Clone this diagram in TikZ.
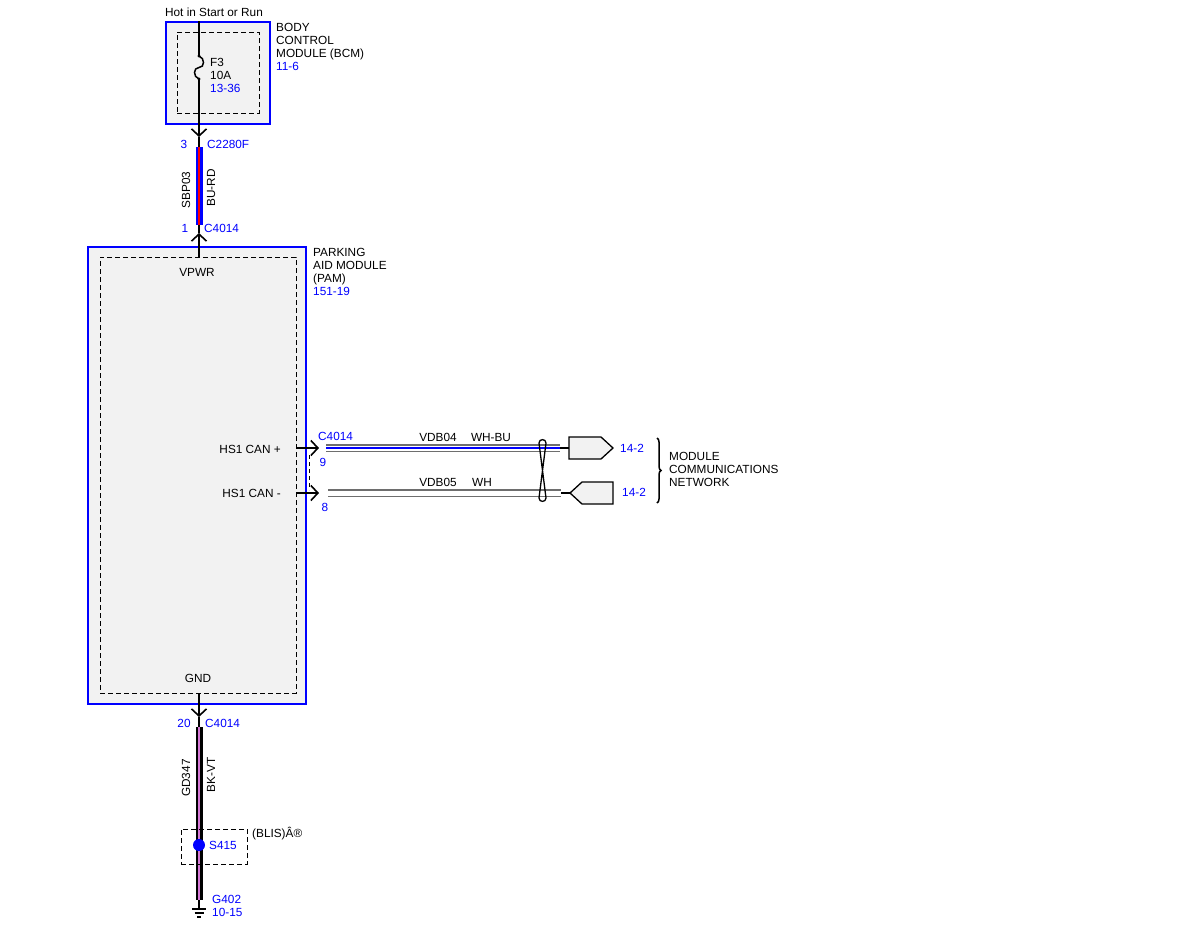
\documentclass[tikz,border=0pt]{standalone}
\usepackage{fontspec}
\setmainfont{Liberation Sans}
\usetikzlibrary{arrows.meta,decorations.pathreplacing}
\definecolor{refblue}{RGB}{0,0,255}
\definecolor{boxfill}{RGB}{242,242,242}
\definecolor{violetwire}{RGB}{214,120,214}
\definecolor{wiregray}{RGB}{110,110,110}

\tikzset{
  lbl/.style={font=\fontsize{11.8}{13}\selectfont, inner sep=0pt},
  ref/.style={lbl, text=refblue},
  module/.style={draw=refblue, fill=boxfill, line width=1.5pt, inner sep=0pt},
  inbox/.style={draw=black, dash pattern=on 5pt off 3pt, line width=0.9pt, inner sep=0pt},
  thin/.style={line width=1.5pt},
  pinarrow/.style={thin, -{Straight Barb[length=7pt,width=15pt,line width=1.6pt]}},
  canwire/.style={draw=wiregray, double=white, double distance=5pt, line width=1.1pt},
  plug/.style={draw=black, fill=boxfill, line width=1.3pt}
}

\begin{document}
\begin{tikzpicture}[x=1pt,y=-1pt]

\def\wx{199}

\path [use as bounding box] (0,0) rectangle (1199,927);

% BCM
\node [lbl] (hot) at (214,12) {Hot in Start or Run};
\node [module, minimum width=104pt, minimum height=102pt] (bcm) at (218,73) {};
\node [inbox, minimum width=82pt, minimum height=81pt] (bcmin) at (218,72.5) {};
\node [lbl, anchor=north west, align=left] (bcmname) at (276,23.5)
  {BODY\\CONTROL\\MODULE (BCM)\\\textcolor{refblue}{11-6}};
\node [lbl, anchor=north west, align=left] (fuse) at (210,58)
  {F3\\10A\\\textcolor{refblue}{13-36}};

% FUSE
\coordinate (fa) at (\wx,56);
\coordinate (fb) at (\wx,79);
\coordinate (pin3) at (\wx,137);
\coordinate (w1a) at (\wx,147);
\draw [thin] (bcm.north -| fa) -- (fa);
\draw [thin] (fa) .. controls +(6,2) and +(6,0) .. (\wx,67.5) .. controls +(-6,0) and +(-6,-2) .. (fb);
\fill (fa) circle (1.6pt) (fb) circle (1.6pt);
\draw [pinarrow] (fb) -- (pin3);
\draw [thin] (pin3) -- (w1a);

% WIRE SBP03
\coordinate (w1b) at (\wx,225);
\coordinate (pin1) at (\wx,233);
\draw [refblue, line width=7pt] (w1a) -- (w1b);
\draw [red, line width=2.2pt] (w1a) -- (w1b);
\node [ref] (p3) at (184,144) {3};
\node [ref, anchor=west] (c2280f) at (207,144) {C2280F};
\node [lbl, rotate=90] (sbp) at (186,190) {SBP03};
\node [lbl, rotate=90] (burd) at (211,188) {BU-RD};
\node [ref] (p1) at (185,228) {1};
\node [ref, anchor=west] (c4014a) at (204,228) {C4014};

% PAM
\node [module, minimum width=218pt, minimum height=457pt] (pam) at (197,475.5) {};
\node [inbox, minimum width=196pt, minimum height=436pt] (pamin) at (198,475) {};
\node [lbl, anchor=north west, align=left] (pamname) at (313,248.5)
  {PARKING\\AID MODULE\\(PAM)\\\textcolor{refblue}{151-19}};
\node [lbl] (vpwr) at (197,272) {VPWR};
\node [lbl] (gnd) at (198,678) {GND};
\draw [pinarrow] (pamin.north -| pin1) -- (pin1);
\draw [thin] (pin1) -- (w1b);

% CAN
\node [lbl, anchor=east] (canp) at (281,449) {HS1 CAN +};
\node [lbl, anchor=east] (canm) at (281,493) {HS1 CAN -};
\coordinate (pin9) at (319,448);
\coordinate (pin8) at (319,493);
\draw [pinarrow] (pamin.east |- pin9) -- (pin9);
\draw [pinarrow] (pamin.east |- pin8) -- (pin8);
\draw [line width=0.9pt, dash pattern=on 4pt off 3pt] (309,455) -- (309,490);
\node [ref, anchor=west] (c4014b) at (318,436) {C4014};
\node [ref] (p9) at (323,462) {9};
\node [ref] (p8) at (325,507) {8};

\coordinate (va) at (326,448);
\coordinate (vb) at (560,448);
\coordinate (wa) at (328,493);
\coordinate (wb) at (561,493);
\draw [canwire] (va) -- (vb);
\draw [refblue, line width=1.5pt] (va) -- (vb);
\draw [canwire] (wa) -- (wb);
\node [lbl] (vdb04) at (438,437) {VDB04};
\node [lbl] (whbu) at (491,437) {WH-BU};
\node [lbl] (vdb05) at (438,482) {VDB05};
\node [lbl] (wh) at (482,482) {WH};

% TWIST
\draw [line width=1.3pt] (539,443) .. controls (539,438.5) and (546,438.5) .. (546,443)
  -- (539,498) .. controls (539,502.5) and (546,502.5) .. (546,498) -- cycle;

% PLUGS
\coordinate (plugA) at (569,448);
\coordinate (plugB) at (570,493);
\draw [plug] (plugA) ++(0,-11) -- ++(32,0) -- ++(12,11) -- ++(-12,11) -- ++(-32,0) -- cycle;
\draw [plug] (plugB) -- ++(12,-11) -- ++(31,0) -- ++(0,22) -- ++(-31,0) -- cycle;
\draw [thin] (vb) -- (plugA);
\draw [thin] (wb) -- (plugB);
\node [ref] (lnkA) at (632,448) {14-2};
\node [ref] (lnkB) at (634,492) {14-2};
\draw [line width=1.5pt, decorate, decoration={brace, amplitude=4pt}] (657,438) -- (657,503);
\node [lbl, anchor=north west, align=left] (mcn) at (669,452)
  {MODULE\\COMMUNICATIONS\\NETWORK};

% GROUND WIRE
\coordinate (pin20) at (\wx,717);
\coordinate (w2a) at (\wx,727);
\coordinate (w2b) at (\wx,900);
\coordinate (gtop) at (\wx,909);
\draw [pinarrow] (pamin.south -| pin20) -- (pin20);
\draw [thin] (pin20) -- (w2a);
\draw [black, line width=7pt] (w2a) -- (w2b);
\draw [violetwire, line width=2.2pt] (w2a) -- (w2b);
\node [ref] (p20) at (184,723) {20};
\node [ref, anchor=west] (c4014c) at (205,723) {C4014};
\node [lbl, rotate=90] (gd) at (186,778) {GD347};
\node [lbl, rotate=90] (bkvt) at (211,775) {BK-VT};

% SPLICE
\node [inbox, minimum width=66pt, minimum height=35pt] (blis) at (214,846.5) {};
\fill [refblue] (\wx,845) circle (6pt);
\node [ref, anchor=west] (s415) at (209,845) {S415};
\node [lbl, anchor=west] (blisname) at (252,834) {(BLIS)Â®};

% GROUND
\draw [thin] (w2b) -- (gtop);
\draw [thin] (gtop) ++(-7,0) -- ++(14,0);
\draw [thin] (gtop) ++(-4.5,4) -- ++(9,0);
\draw [thin] (gtop) ++(-2,8) -- ++(4,0);
\node [ref, anchor=west] (g402) at (212,899) {G402};
\node [ref, anchor=west] (g402p) at (212,912) {10-15};

\end{tikzpicture}
\end{document}
